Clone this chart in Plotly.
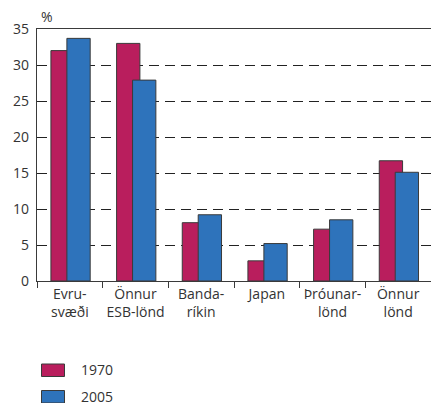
import plotly.graph_objects as go

# Share of exports by destination (%)
categories = ["Evru-<br>svæði", "Önnur<br>ESB-lönd", "Banda-<br>ríkin", "Japan", "Þróunar-<br>lönd", "Önnur<br>lönd"]
series_names = ["1970", "2005"]
values_1970 = [32.0, 33.0, 8.1, 2.8, 7.2, 16.7]
values_2005 = [33.7, 27.9, 9.2, 5.2, 8.5, 15.1]
y_ticks = [0, 5, 10, 15, 20, 25, 30, 35]

colors = ["#B91E5D", "#2E73BB"]
edge = "#3a3a3a"
text_color = "#333333"
font_family = "Open Sans, Noto Sans, sans-serif"

W, H = 431, 403
ml, mr, mt, mb = 37, 0, 29, 122

fig = go.Figure()
for name, vals, col, off in [(series_names[0], values_1970, colors[0], -0.288),
                             (series_names[1], values_2005, colors[1], -0.045)]:
    fig.add_trace(go.Bar(
        x=categories, y=vals, name=name,
        marker=dict(color=col, line=dict(color=edge, width=1)),
        width=0.355, offset=off, showlegend=False,
    ))

fig.update_layout(
    width=W, height=H,
    margin=dict(l=ml, r=mr, t=mt, b=mb),
    barmode="overlay",
    plot_bgcolor="white", paper_bgcolor="white",
    font=dict(family=font_family, size=14, color=text_color),
)
fig.update_xaxes(
    type="category", showline=True, linecolor=edge, linewidth=1.3, mirror=True,
    ticks="outside", tickson="boundaries", ticklen=6, tickcolor=edge, tickwidth=1.3,
    showgrid=False, tickangle=0, tickfont=dict(size=14, color=text_color),
)
fig.update_yaxes(
    range=[0, 35], tickvals=y_ticks, showline=True, linecolor=edge, linewidth=1.3,
    ticks="", showgrid=True, gridcolor="#222222", gridwidth=1.2, griddash="10px,6px",
    zeroline=False, tickfont=dict(size=14, color=text_color), ticklabelstandoff=4,
)

plot_h = H - mt - mb
plot_w = W - ml - mr

def py(pix):
    return (H - mb - pix) / plot_h

def px(pix):
    return (pix - ml) / plot_w

fig.add_annotation(text="%", xref="paper", yref="paper", x=px(39), y=py(17),
                   xanchor="left", yanchor="middle", showarrow=False,
                   font=dict(size=14, color=text_color))

# legend drawn as swatches with labels
for i, (name, col) in enumerate(zip(series_names, colors)):
    top = 364 + i * 26.5
    fig.add_shape(type="rect", xref="paper", yref="paper",
                  x0=px(41.5), x1=px(64.5), y0=py(top), y1=py(top + 12.5),
                  fillcolor=col, line=dict(color=edge, width=1))
    fig.add_annotation(text=name, xref="paper", yref="paper", x=px(79), y=py(top + 5.5),
                       xanchor="left", yanchor="middle", showarrow=False,
                       font=dict(size=14, color=text_color))

fig.write_html("out.html")
